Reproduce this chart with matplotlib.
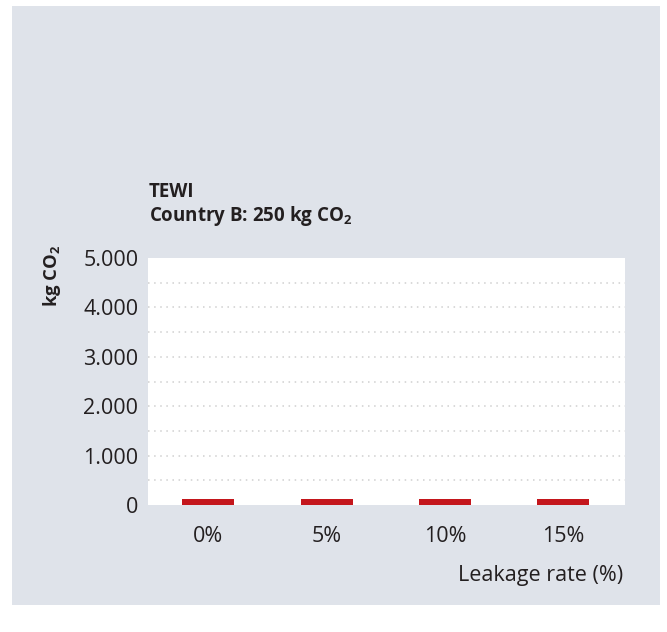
import matplotlib
matplotlib.use("Agg")
import matplotlib.pyplot as plt
from matplotlib.patches import Rectangle

# TEWI per leakage rate, country B
categories = ["0%", "5%", "10%", "15%"]
values = [120, 120, 120, 120]
yticks = [0, 1000, 2000, 3000, 4000, 5000]
ytick_labels = ["0", "1.000", "2.000", "3.000", "4.000", "5.000"]
grid_levels = [500, 1000, 1500, 2000, 2500, 3000, 3500, 4000, 4500]

plt.rcParams["font.family"] = ["Open Sans", "DejaVu Sans"]
plt.rcParams["mathtext.fontset"] = "custom"
plt.rcParams["mathtext.rm"] = "Open Sans"
plt.rcParams["mathtext.bf"] = "Open Sans:bold"

TEXT = "#231f20"
PANEL = "#dfe3ea"
BAR = "#c4161c"

W, H = 667, 632
fig = plt.figure(figsize=(W / 100, H / 100), dpi=100)
fig.patch.set_facecolor("white")

# grey background panel behind everything
panel = Rectangle((12 / W, 1 - 605 / H), (660 - 12) / W, (605 - 6) / H,
                  transform=fig.transFigure, facecolor=PANEL, edgecolor="none")
panel.set_zorder(-10)
fig.add_artist(panel)

ax = fig.add_axes([148 / W, 1 - 505 / H, (625 - 148) / W, (505 - 258) / H])
ax.set_zorder(1)
ax.set_facecolor("white")
x = list(range(len(categories)))
ax.bar(x, values, width=0.44, color=BAR, zorder=3)

for g in grid_levels:
    ax.axhline(g, color="#cfcfcf", linestyle=(0, (1, 3)), linewidth=1.1, zorder=1)

ax.set_xlim(-0.51, 3.52)
ax.set_ylim(0, 5000)
ax.set_xticks(x)
ax.set_xticklabels(categories, fontsize=15.5, color=TEXT)
ax.set_yticks(yticks)
ax.set_yticklabels(ytick_labels, fontsize=15.5, color=TEXT)
ax.tick_params(length=0)
ax.tick_params(axis="y", pad=7)
ax.tick_params(axis="x", pad=15)
for s in ax.spines.values():
    s.set_visible(False)

fig.text(149 / W, 1 - 192 / H, "TEWI", fontsize=13.5, fontweight="bold",
         color=TEXT, ha="left", va="center")
fig.text(149 / W, 1 - 216 / H, r"Country B: 250 kg CO$_\mathbf{2}$", fontsize=13.5,
         fontweight="bold", color=TEXT, ha="left", va="center")
fig.text(52 / W, 1 - 276 / H, r"kg CO$_\mathbf{2}$", fontsize=13.3, fontweight="bold",
         color=TEXT, rotation=90, ha="center", va="center")
fig.text(623 / W, 1 - 575 / H, "Leakage rate (%)", fontsize=15.5, color=TEXT,
         ha="right", va="center")

fig.savefig("out.png", dpi=100, facecolor=fig.get_facecolor())
